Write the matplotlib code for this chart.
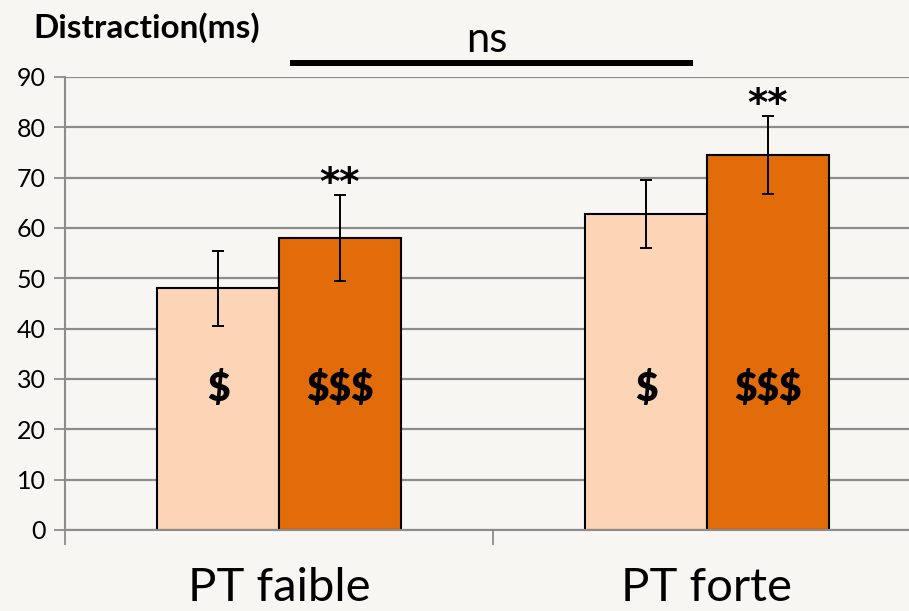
import numpy as np
import matplotlib.pyplot as plt

# distraction cost (ms) per group, low / high reward
groups = ['PT faible', 'PT forte']
low_reward = [48, 62.8]
high_reward = [58, 74.5]
low_err = [7.4, 6.7]
high_err = [8.6, 7.7]
reward_labels = ['$', '$$$']
yticks = [0, 10, 20, 30, 40, 50, 60, 70, 80, 90]

plt.rcParams['font.family'] = ['Lato', 'DejaVu Sans']

bg = '#f8f6f3'
fig = plt.figure(figsize=(9.09, 6.11), dpi=100, facecolor=bg)
ax = fig.add_axes([0.0715, 0.1326, 0.9417, 0.7414], facecolor=bg)

x = np.arange(len(groups))
w = 0.285
ax.set_axisbelow(True)
ax.yaxis.grid(True, color='#8c8c8c', lw=1.6)

b1 = ax.bar(x - w/2, low_reward, w, color='#fbd5b5', edgecolor='black', lw=1.5)
b2 = ax.bar(x + w/2, high_reward, w, color='#e36c0a', edgecolor='black', lw=1.5)
ax.errorbar(x - w/2, low_reward, yerr=low_err, fmt='none', ecolor='black',
            elinewidth=1.4, capsize=4.5, capthick=1.4)
ax.errorbar(x + w/2, high_reward, yerr=high_err, fmt='none', ecolor='black',
            elinewidth=1.4, capsize=4.5, capthick=1.4)

# reward level written inside each bar
for i in range(len(groups)):
    ax.text(x[i] - w/2, 28, reward_labels[0], ha='center', va='center',
            fontsize=28, fontweight='heavy')
    ax.text(x[i] + w/2, 28, reward_labels[1], ha='center', va='center',
            fontsize=28, fontweight='heavy')

# significance stars above the high-reward bars
for i in range(len(groups)):
    ax.text(x[i] + w/2, high_reward[i] + high_err[i] + 2.2, '**',
            ha='center', va='center', fontsize=28, fontweight='bold',
            family='DejaVu Sans')

# non-significant comparison between groups
ax.plot([0.026, 0.967], [92.8, 92.8], color='black', lw=4.3,
        solid_capstyle='butt', clip_on=False)
ax.text(0.486, 97.4, 'ns', ha='center', va='center', fontsize=30)

ax.set_xlim(-0.5, 1.5)
ax.set_ylim(0, 90)
ax.set_yticks(yticks)
ax.tick_params(axis='y', labelsize=18, length=8, width=1.3, color='#8c8c8c', pad=6)

ax.set_xticks([-0.5, 0.5, 1.5])
ax.set_xticklabels([])
ax.tick_params(axis='x', length=11, width=1.3, color='#8c8c8c')
for i, g in enumerate(groups):
    ax.text(x[i], -11.6, g, ha='center', va='center', fontsize=34)

for s in ['top', 'right']:
    ax.spines[s].set_visible(False)
for s in ['left', 'bottom']:
    ax.spines[s].set_color('#8c8c8c')
    ax.spines[s].set_linewidth(1.5)

fig.text(0.037, 0.955, 'Distraction(ms)', ha='left', va='center',
         fontsize=24, fontweight='bold')

fig.savefig('out.png', dpi=100, facecolor=bg)
